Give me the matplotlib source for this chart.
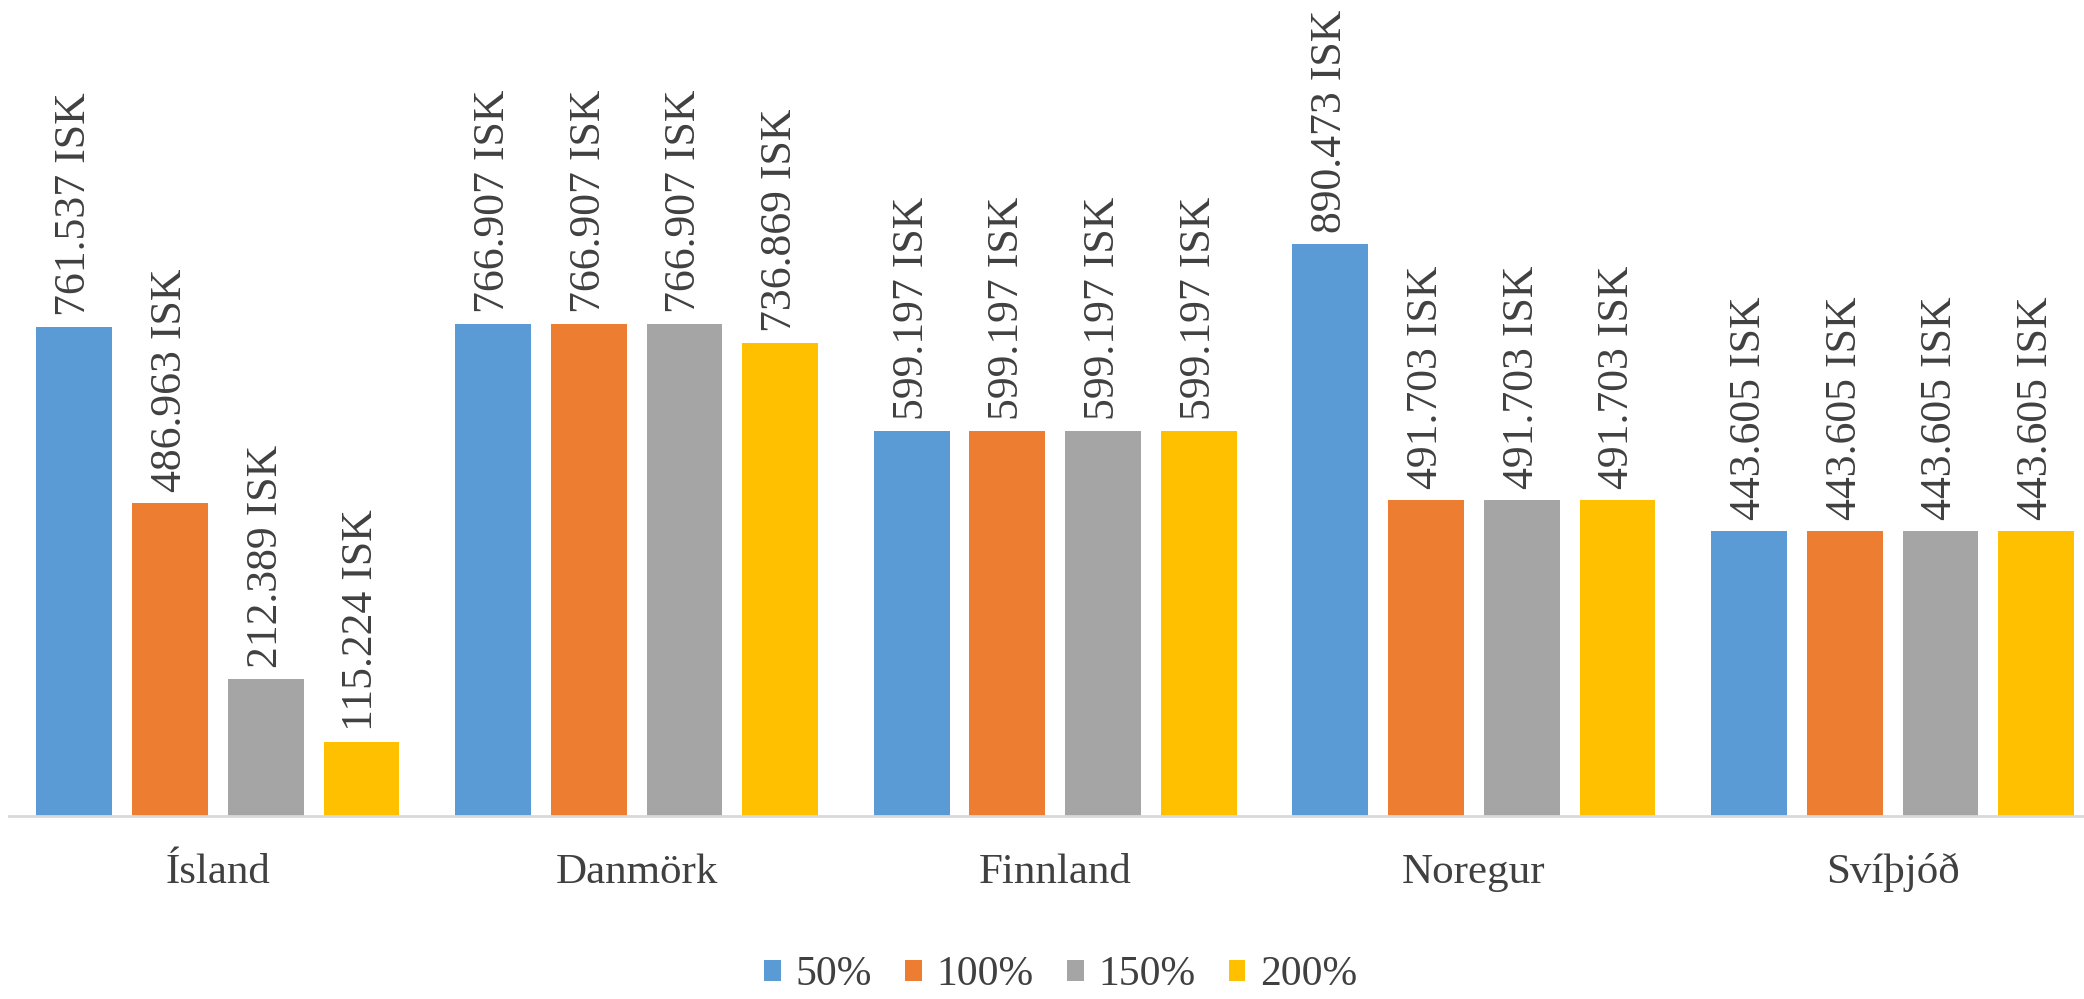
import matplotlib.pyplot as plt
import numpy as np

plt.rcParams['font.family'] = ['Liberation Serif', 'DejaVu Serif']

lond = ["Ísland", "Danmörk", "Finnland", "Noregur", "Svíþjóð"]
hlutfall = ["50%", "100%", "150%", "200%"]
gildi_50 = [761537, 766907, 599197, 890473, 443605]
gildi_100 = [486963, 766907, 599197, 491703, 443605]
gildi_150 = [212389, 766907, 599197, 491703, 443605]
gildi_200 = [115224, 736869, 599197, 491703, 443605]
litir = ["#5B9BD5", "#ED7D31", "#A5A5A5", "#FFC000"]

rodir = [gildi_50, gildi_100, gildi_150, gildi_200]
textalitur = "#404040"

fig = plt.figure(figsize=(20.84, 9.99), dpi=100)
ax = fig.add_axes([0.0041, 0.1835, 1.0045, 0.8165])

x = np.arange(len(lond))
breidd = 0.181
bil = 0.2286

for i, (rod, litur) in enumerate(zip(rodir, litir)):
    pos = x + (i - 1.5) * bil
    ax.bar(pos, rod, width=breidd, color=litur, label=hlutfall[i], zorder=2)
    for px, v in zip(pos, rod):
        texti = f"{v:,} ISK".replace(",", ".")
        ax.annotate(texti, (px, v), xytext=(0, 8), textcoords="offset points",
                    rotation=90, ha="center", va="bottom", fontsize=31.5, color=textalitur)

ax.set_xlim(-0.5, 4.5)
ax.set_ylim(0, 1271500)
ax.set_xticks(x)
ax.set_xticklabels(lond, fontsize=31, color=textalitur)
ax.tick_params(axis="x", length=0, pad=27)
ax.set_yticks([])
for s in ["top", "right", "left"]:
    ax.spines[s].set_visible(False)
ax.spines["bottom"].set_color("#D9D9D9")
ax.spines["bottom"].set_linewidth(2)
ax.spines["bottom"].set_zorder(3)

# legend neðst, rétt innan myndar
leg = fig.legend(loc="center", bbox_to_anchor=(0.509, 0.024), ncol=4, frameon=False,
                 fontsize=30, handlelength=0.4, handleheight=0.4, handletextpad=0.35,
                 columnspacing=0.8, labelcolor=textalitur, borderpad=0.1)

fig.savefig("out.png", dpi=100)
